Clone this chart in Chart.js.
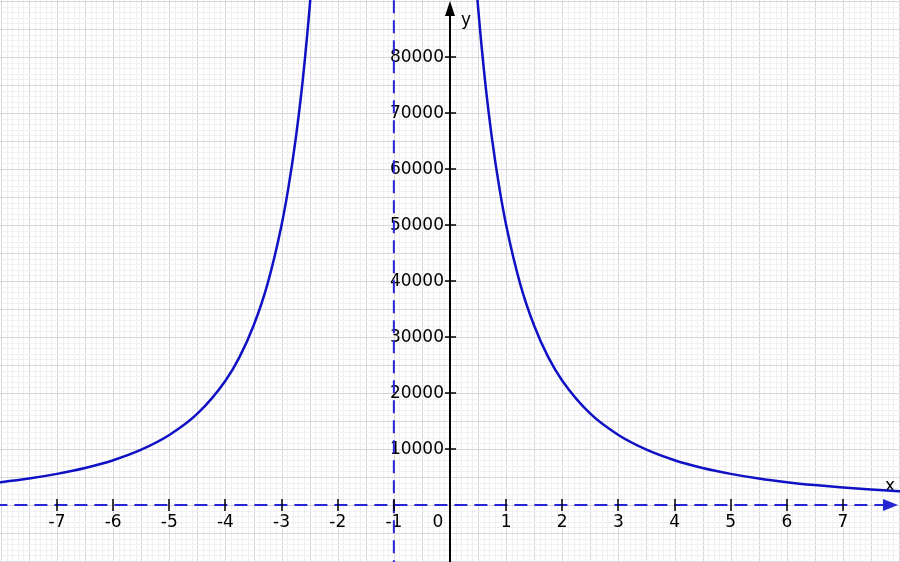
<!DOCTYPE html>
<html>
<head>
<meta charset="utf-8">
<script src="https://cdn.jsdelivr.net/npm/chart.js@4/dist/chart.umd.min.js"></script>
<style>
  html, body { margin: 0; padding: 0; background: #fff; }
  #wrap { width: 900px; height: 562px; position: relative; }
</style>
</head>
<body>
<div id="wrap"><canvas id="plot"></canvas></div>
<script>
// ── Data ──
const leftX  = [-8.1, -8, -7.5, -7, -6.5, -6, -5.5, -5, -4.5, -4, -3.75, -3.5, -3.25, -3, -2.875, -2.75, -2.625, -2.5, -2.4];
const leftY  = [3970, 4080, 4730, 5560, 6610, 8000, 9880, 12500, 16300, 22200, 26400, 32000, 39500, 50000, 56900, 65300, 75700, 88900, 102000];
const rightX = [0.4, 0.5, 0.625, 0.75, 0.875, 1, 1.25, 1.5, 1.75, 2, 2.5, 3, 3.5, 4, 4.5, 5, 5.5, 6, 6.5, 7, 7.5, 8, 8.1];
const rightY = [102000, 88900, 75700, 65300, 56900, 50000, 39500, 32000, 26400, 22200, 16300, 12500, 9880, 8000, 6610, 5560, 4730, 4080, 3560, 3130, 2770, 2470, 2420];

const asymptoteX = -1;   // vertical dashed line
const asymptoteY = 0;    // horizontal dashed line

const xTicks = [-7, -6, -5, -4, -3, -2, -1, 1, 2, 3, 4, 5, 6, 7];
const yTicks = [10000, 20000, 30000, 40000, 50000, 60000, 70000, 80000];

const X_MIN = -8.016, X_MAX = 8.016;
const Y_MIN = -10180, Y_MAX = 90180;

const BLUE = '#1010c4';
const DASH_BLUE = '#2626d4';
const FONT = '17px "DejaVu Sans", Verdana, sans-serif';

function pts(xs, ys) { return xs.map((x, i) => ({ x: x, y: ys[i] })); }

// ── Plot decorations: graph paper, axes, labels ──
const paperPlugin = {
  id: 'paper',
  beforeDatasetsDraw(chart) {
    const { ctx, scales: { x, y }, chartArea: a } = chart;
    ctx.save();
    ctx.lineWidth = 1;
    // minor grid every 0.1 / 1000, darker every 0.5 / 5000
    for (let i = -82; i <= 82; i++) {
      const px = Math.round(x.getPixelForValue(i / 10)) + 0.5;
      ctx.strokeStyle = (i % 5 === 0) ? '#d8d8dc' : '#f0f0f2';
      ctx.beginPath(); ctx.moveTo(px, a.top); ctx.lineTo(px, a.bottom); ctx.stroke();
    }
    for (let j = -11; j <= 91; j++) {
      const py = Math.round(y.getPixelForValue(j * 1000)) + 0.5;
      ctx.strokeStyle = (j % 5 === 0) ? '#d8d8dc' : '#f0f0f2';
      ctx.beginPath(); ctx.moveTo(a.left, py); ctx.lineTo(a.right, py); ctx.stroke();
    }

    // y axis (black, with arrow)
    const x0 = Math.round(x.getPixelForValue(0));
    ctx.strokeStyle = '#000';
    ctx.fillStyle = '#000';
    ctx.lineWidth = 2;
    ctx.beginPath(); ctx.moveTo(x0, a.bottom); ctx.lineTo(x0, a.top + 12); ctx.stroke();
    ctx.beginPath();
    ctx.moveTo(x0, a.top + 1); ctx.lineTo(x0 - 5, a.top + 16); ctx.lineTo(x0 + 5, a.top + 16);
    ctx.closePath(); ctx.fill();

    // tick labels
    ctx.font = FONT;
    const y0 = y.getPixelForValue(0);
    ctx.textAlign = 'center';
    ctx.textBaseline = 'middle';
    xTicks.forEach(v => ctx.fillText(String(v), x.getPixelForValue(v), y0 + 18));
    ctx.fillText('0', x0 - 12, y0 + 18);
    ctx.textAlign = 'right';
    yTicks.forEach(v => ctx.fillText(String(v), x0 - 6, y.getPixelForValue(v) + 1));

    // axis names
    ctx.textAlign = 'left';
    ctx.fillText('y', x0 + 11, a.top + 21);
    ctx.fillText('x', a.right - 15, y0 - 18);
    ctx.restore();
  },
  afterDatasetsDraw(chart) {
    const { ctx, scales: { x, y }, chartArea: a } = chart;
    const x0 = Math.round(x.getPixelForValue(0));
    const y0 = Math.round(y.getPixelForValue(0));
    ctx.save();
    ctx.strokeStyle = '#000';
    ctx.lineWidth = 1.5;
    xTicks.forEach(v => {
      const px = Math.round(x.getPixelForValue(v));
      ctx.beginPath(); ctx.moveTo(px, y0 - 6); ctx.lineTo(px, y0 + 6); ctx.stroke();
    });
    yTicks.forEach(v => {
      const py = Math.round(y.getPixelForValue(v));
      ctx.beginPath(); ctx.moveTo(x0 - 5, py); ctx.lineTo(x0 + 6, py); ctx.stroke();
    });
    // x arrow head (blue, at end of dashed line)
    ctx.fillStyle = DASH_BLUE;
    ctx.beginPath();
    ctx.moveTo(a.right - 2, y0); ctx.lineTo(a.right - 17, y0 - 6); ctx.lineTo(a.right - 17, y0 + 6);
    ctx.closePath(); ctx.fill();
    ctx.restore();
  }
};

new Chart(document.getElementById('plot'), {
  type: 'line',
  data: {
    datasets: [
      {
        data: pts(leftX, leftY),
        borderColor: BLUE, borderWidth: 2.5, pointRadius: 0,
        cubicInterpolationMode: 'monotone', fill: false
      },
      {
        data: pts(rightX, rightY),
        borderColor: BLUE, borderWidth: 2.5, pointRadius: 0,
        cubicInterpolationMode: 'monotone', fill: false
      },
      {
        data: [{ x: asymptoteX, y: Y_MIN - 2000 }, { x: asymptoteX, y: Y_MAX + 2000 }],
        borderColor: DASH_BLUE, borderWidth: 2, borderDash: [13, 7], pointRadius: 0
      },
      {
        data: [{ x: X_MIN - 0.1, y: asymptoteY }, { x: 7.8, y: asymptoteY }],
        borderColor: DASH_BLUE, borderWidth: 2, borderDash: [13, 7], pointRadius: 0
      }
    ]
  },
  options: {
    responsive: true,
    maintainAspectRatio: false,
    animation: false,
    layout: { padding: 0 },
    plugins: { legend: { display: false }, tooltip: { enabled: false } },
    scales: {
      x: { type: 'linear', min: X_MIN, max: X_MAX, display: false },
      y: { type: 'linear', min: Y_MIN, max: Y_MAX, display: false }
    }
  },
  plugins: [paperPlugin]
});
</script>
</body>
</html>
